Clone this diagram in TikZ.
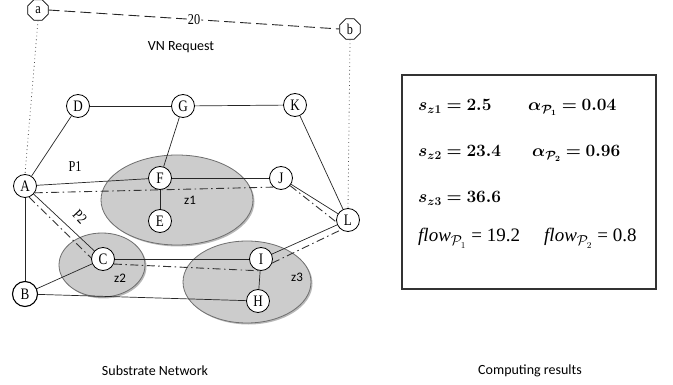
\documentclass[tikz,border=0pt]{standalone}
\usepackage{fontspec}
\usepackage{amsmath,bm}
\setmainfont{Liberation Serif}
\newfontfamily\calib{Carlito}
\newfontfamily\nodefont[FakeStretch=0.82]{Liberation Serif}
\usetikzlibrary{shapes.geometric}
\definecolor{zonefill}{HTML}{CCCCCC}
\definecolor{zoneedge}{HTML}{6E6E6E}
\tikzset{
  snode/.style={circle,draw=black,line width=0.8pt,fill=white,minimum size=23pt,inner sep=0pt,font=\nodefont\fontsize{16}{16}\selectfont},
  vnode/.style={regular polygon,regular polygon sides=8,draw=black,line width=0.7pt,fill=white,minimum size=22pt,inner sep=0pt,font=\nodefont\fontsize{15}{15}\selectfont},
  link/.style={line width=0.7pt,draw=black!85},
  pathline/.style={line width=0.9pt,draw=black!80,dash pattern=on 8pt off 3.5pt on 1.5pt off 3.5pt},
  vlink/.style={line width=0.9pt,draw=black!85,dash pattern=on 11pt off 5pt},
  dotline/.style={line width=0.8pt,draw=black!70,dash pattern=on 0.8pt off 3pt},
  zone/.style={ellipse,fill=zonefill,draw=zoneedge,line width=0.8pt,inner sep=0pt},
  zshadow/.style={ellipse,fill=black!28,inner sep=0pt},
  lab/.style={font=\calib\fontsize{14}{14}\selectfont},
  zlab/.style={font=\calib\fontsize{13}{13}\selectfont},
  plab/.style={font=\nodefont\fontsize{15}{15}\selectfont},
  mathtxt/.style={anchor=base west,inner sep=0pt,font=\fontsize{17}{20}\selectfont},
  flowtxt/.style={anchor=base west,inner sep=0pt,font=\fontsize{19}{22}\selectfont},
}
\begin{document}
\begin{tikzpicture}[x=1pt,y=-1pt]
\useasboundingbox (0,0) rectangle (673,385);
% zones
\node[zshadow,minimum width=152pt,minimum height=90pt] at (178.5,201.5) {};
\node[zone,minimum width=152pt,minimum height=90pt] (z1) at (177,200) {};
\node[zshadow,minimum width=86pt,minimum height=64pt] at (103.5,266.5) {};
\node[zone,minimum width=86pt,minimum height=64pt] (z2) at (102,265) {};
\node[zshadow,minimum width=128pt,minimum height=82pt] at (248.5,283.5) {};
\node[zone,minimum width=128pt,minimum height=82pt] (z3) at (247,282) {};
% virtual nodes
\node[vnode] (a) at (38,10) {a};
\node[vnode] (b) at (350,29) {b};
% substrate nodes
\node[snode] (D) at (78,106) {D};
\node[snode] (G) at (183,106) {G};
\node[snode] (K) at (295,105) {K};
\node[snode] (A) at (25,186) {A};
\node[snode] (F) at (160,178) {F};
\node[snode] (J) at (281,178) {J};
\node[snode] (E) at (160,221) {E};
\node[snode] (L) at (348,220) {L};
\node[snode] (C) at (103,259) {C};
\node[snode] (I) at (261,259) {I};
\node[snode,line width=1.1pt,minimum size=25pt] (B) at (25,294) {B};
\node[snode] (H) at (258,301) {H};
% solid links
\draw[link] (A) -- (D);
\draw[link] (D) -- (G);
\draw[link] (G) -- (K);
\draw[link] (G) -- (F);
\draw[link] (K) -- (L);
\draw[link] (A) -- (F);
\draw[link] (F) -- (J);
\draw[link] (F) -- (E);
\draw[link] (J) -- (L);
\draw[link] (A) -- (C);
\draw[link] (A) -- (B);
\draw[link] (B) -- (C);
\draw[link] (C) -- (I);
\draw[link] (I) -- (H);
\draw[link] (I) -- (L);
\draw[link] (B) -- (H);
% paths
\draw[pathline] (A.-35) -- (J.-130);
\draw[pathline] (J.-40) -- (L.190);
\draw[pathline] (A.-70) -- (C.175);
\draw[pathline] (C.-25) -- (I.-95);
\draw[pathline] (I.-20) -- (L.-125);
% virtual link and mapping
\draw[vlink] (a.east) -- node[fill=white,inner sep=1pt,font=\nodefont\fontsize{15}{15}\selectfont] {20} (b.west);
\draw[dotline] (a.south) -- (A.north);
\draw[dotline] (b.south) -- (L.north);
% labels
\node[lab] at (181,47) {VN Request};
\node[plab] at (75,167) {P1};
\node[plab,rotate=-47,inner sep=0pt] at (80,217) {P2};
\node[zlab] at (190,200) {z1};
\node[zlab] at (120,278) {z2};
\node[zlab] at (297,277) {z3};
\node[lab] (t1) at (155,371) {Substrate Network};
\node[lab] (t2) at (530,371) {Computing results};
% results box
\draw[line width=1.1pt,draw=black!80] (402,75) rectangle (656,289);
\node[mathtxt] at (418,111) {$\bm{s_{z1} = 2.5}$};
\node[mathtxt] at (528,111) {$\bm{\alpha_{\mathcal{P}_1} = 0.04}$};
\node[mathtxt] at (418,157) {$\bm{s_{z2} = 23.4}$};
\node[mathtxt] at (532,157) {$\bm{\alpha_{\mathcal{P}_2} = 0.96}$};
\node[mathtxt] at (418,203) {$\bm{s_{z3} = 36.6}$};
\node[flowtxt] at (418,242) {\itshape flow\/\upshape$_{\mathcal{P}_1}$ = 19.2};
\node[flowtxt] at (544,242) {\itshape flow\/\upshape$_{\mathcal{P}_2}$ = 0.8};
\end{tikzpicture}
\end{document}
